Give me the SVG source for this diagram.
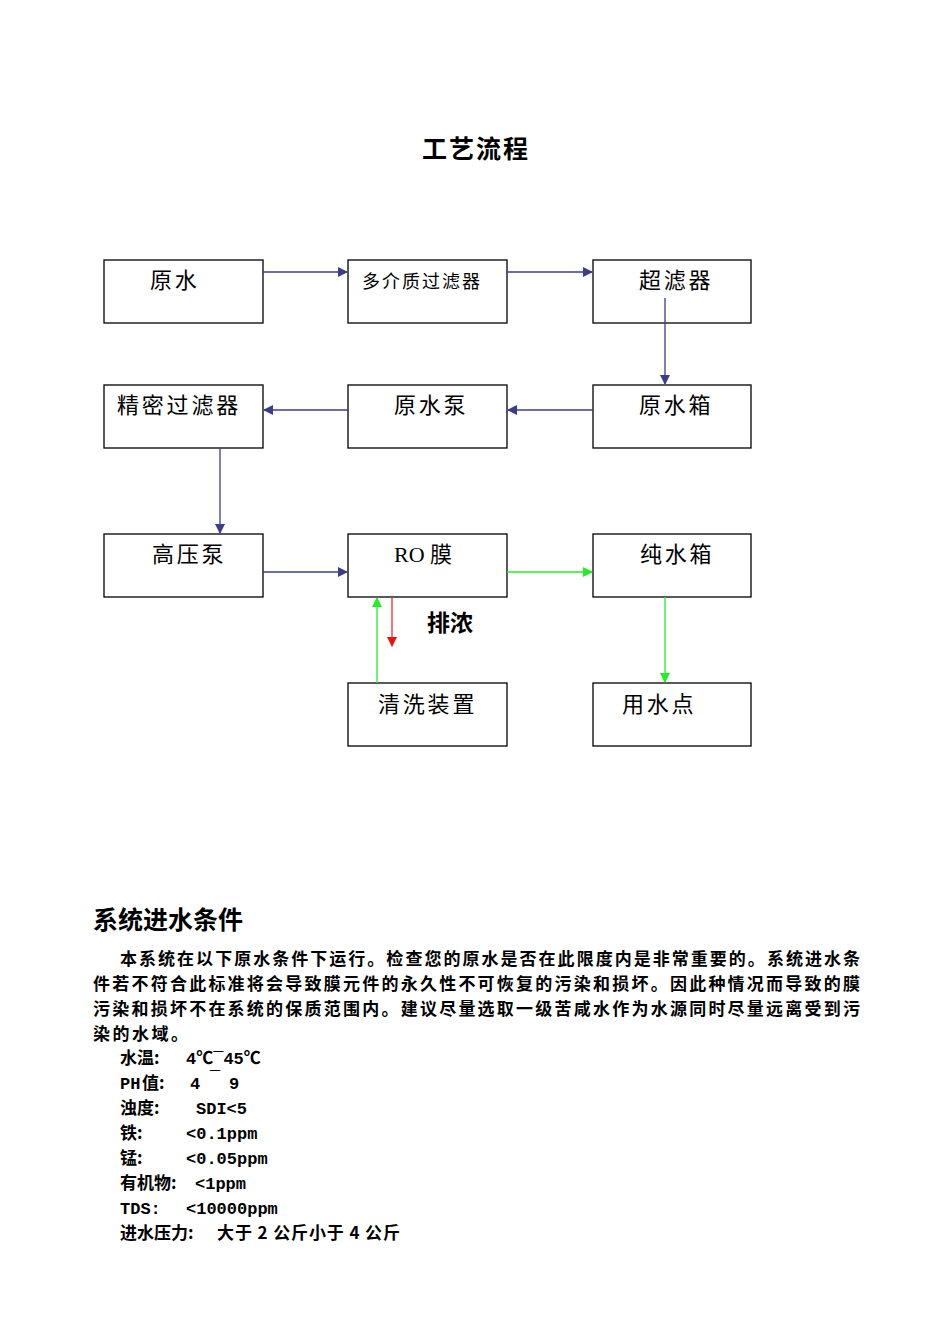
<svg xmlns="http://www.w3.org/2000/svg" width="950" height="1344" viewBox="0 0 950 1344">
<defs>
<style>
.box{fill:#fff;stroke:#000;stroke-width:1.3}
.lbl{font-family:"Noto Sans CJK SC","Noto Sans CJK JP",sans-serif;font-size:22px;letter-spacing:2.8px;fill:#000}
.txt{font-family:"Liberation Mono","Noto Sans CJK SC",monospace;font-size:17px;fill:#000}
.cjk{font-family:"Noto Sans CJK SC",sans-serif;font-size:17px;fill:#000}
.blue{stroke:#3c3c8c;stroke-width:1.3;fill:none}
.green{stroke:#22ee22;stroke-width:1.3;fill:none}
.red{stroke:#e03030;stroke-width:1.3;fill:none}
</style>
<marker id="ab" markerWidth="10" markerHeight="10" refX="9" refY="5" orient="auto" markerUnits="userSpaceOnUse"><path d="M0,0 L10,5 L0,10 z" fill="#3c3c8c"/></marker>
<marker id="ag" markerWidth="10" markerHeight="10" refX="9" refY="5" orient="auto" markerUnits="userSpaceOnUse"><path d="M0,0 L10,5 L0,10 z" fill="#22ee22"/></marker>
<marker id="ar" markerWidth="10" markerHeight="10" refX="9" refY="5" orient="auto" markerUnits="userSpaceOnUse"><path d="M0,0 L10,5 L0,10 z" fill="#ee1111"/></marker>
</defs>
<rect width="950" height="1344" fill="#fff"/>
<text x="476" y="158" text-anchor="middle" font-family="Noto Sans CJK SC,sans-serif" font-size="25" font-weight="bold" letter-spacing="2">工艺流程</text>

<g id="n1"><rect class="box" x="104" y="260" width="159" height="63"/><text class="lbl" x="150" y="288">原水</text></g>
<g id="n2"><rect class="box" x="348" y="260" width="159" height="63"/><text class="lbl" x="362" y="288" style="font-size:18px;letter-spacing:2px">多介质过滤器</text></g>
<g id="n3"><rect class="box" x="593" y="260" width="158" height="63"/><text class="lbl" x="639" y="288">超滤器</text></g>
<g id="n4"><rect class="box" x="104" y="385" width="159" height="63"/><text class="lbl" x="117" y="413">精密过滤器</text></g>
<g id="n5"><rect class="box" x="348" y="385" width="159" height="63"/><text class="lbl" x="394" y="413">原水泵</text></g>
<g id="n6"><rect class="box" x="593" y="385" width="158" height="63"/><text class="lbl" x="639" y="413">原水箱</text></g>
<g id="n7"><rect class="box" x="104" y="534" width="159" height="63"/><text class="lbl" x="152" y="562">高压泵</text></g>
<g id="n8"><rect class="box" x="348" y="534" width="159" height="63"/><text class="lbl" x="394" y="562" style="letter-spacing:0"><tspan font-family="Liberation Serif,serif">RO </tspan>膜</text></g>
<g id="n9"><rect class="box" x="593" y="534" width="158" height="63"/><text class="lbl" x="640" y="562">纯水箱</text></g>
<g id="n10"><rect class="box" x="348" y="683" width="159" height="63"/><text class="lbl" x="378" y="712">清洗装置</text></g>
<g id="n11"><rect class="box" x="593" y="683" width="158" height="63"/><text class="lbl" x="622" y="712">用水点</text></g>
<g id="n12"><text x="427" y="631" font-family="Noto Sans CJK SC,sans-serif" font-size="23" font-weight="bold">排浓</text></g>

<g id="connectors">
<line class="blue" x1="263" y1="272" x2="347" y2="272" marker-end="url(#ab)"/>
<line class="blue" x1="507" y1="272" x2="592" y2="272" marker-end="url(#ab)"/>
<line class="blue" x1="665" y1="298" x2="665" y2="384" marker-end="url(#ab)"/>
<line class="blue" x1="593" y1="410" x2="508" y2="410" marker-end="url(#ab)"/>
<line class="blue" x1="348" y1="410" x2="264" y2="410" marker-end="url(#ab)"/>
<line class="blue" x1="220" y1="448" x2="220" y2="533" marker-end="url(#ab)"/>
<line class="blue" x1="263" y1="572" x2="347" y2="572" marker-end="url(#ab)"/>
<line class="green" x1="507" y1="572" x2="592" y2="572" marker-end="url(#ag)"/>
<line class="green" x1="665" y1="597" x2="665" y2="682" marker-end="url(#ag)"/>
<line class="green" x1="377" y1="683" x2="377" y2="598" marker-end="url(#ag)"/>
<line class="red" x1="392" y1="597" x2="392" y2="646" marker-end="url(#ar)"/>
</g>

<text x="93" y="929" font-family="Noto Sans CJK SC,sans-serif" font-size="25" font-weight="bold">系统进水条件</text>
<g font-weight="bold">
<text class="cjk" x="120" y="965" textLength="740" lengthAdjust="spacing">本系统在以下原水条件下运行。检查您的原水是否在此限度内是非常重要的。系统进水条</text>
<text class="cjk" x="93" y="990" textLength="767" lengthAdjust="spacing">件若不符合此标准将会导致膜元件的永久性不可恢复的污染和损坏。因此种情况而导致的膜</text>
<text class="cjk" x="93" y="1015" textLength="767" lengthAdjust="spacing">污染和损坏不在系统的保质范围内。建议尽量选取一级苦咸水作为水源同时尽量远离受到污</text>
<text class="cjk" x="93" y="1040" textLength="95" lengthAdjust="spacing">染的水域。</text>
</g>
<g font-weight="bold">
<text class="cjk" x="120" y="1064">水温:</text><text class="txt" x="186" y="1064">4℃¯45℃</text>
<text class="txt" x="120" y="1089">PH</text><text class="cjk" x="142" y="1089">值:</text><text class="txt" x="190" y="1089">4</text><text class="txt" x="210" y="1083">¯</text><text class="txt" x="229" y="1089">9</text>
<text class="cjk" x="120" y="1114">浊度:</text><text class="txt" x="196" y="1114">SDI&lt;5</text>
<text class="cjk" x="120" y="1139">铁:</text><text class="txt" x="186" y="1139">&lt;0.1ppm</text>
<text class="cjk" x="120" y="1164">锰:</text><text class="txt" x="186" y="1164">&lt;0.05ppm</text>
<text class="cjk" x="120" y="1189">有机物:</text><text class="txt" x="195" y="1189">&lt;1ppm</text>
<text class="txt" x="120" y="1214">TDS:</text><text class="txt" x="186" y="1214">&lt;10000ppm</text>
<text class="cjk" x="120" y="1239">进水压力:</text><text class="cjk" x="217" y="1239" textLength="183" lengthAdjust="spacing">大于 2 公斤小于 4 公斤</text>
</g>
</svg>
